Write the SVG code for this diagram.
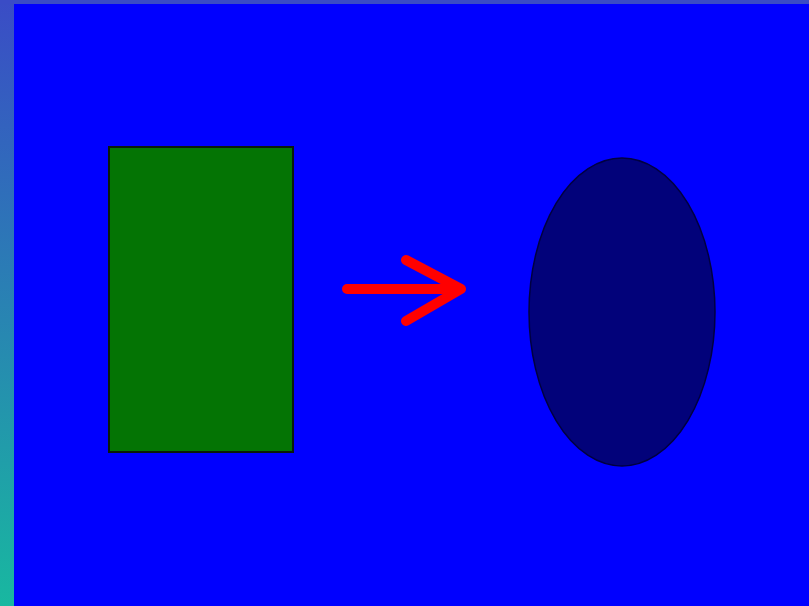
<svg xmlns="http://www.w3.org/2000/svg" width="809" height="606" viewBox="0 0 809 606">
<defs>
<linearGradient id="bg" x1="0" y1="0" x2="0" y2="1">
<stop offset="0" stop-color="#3a4cc6"/>
<stop offset="1" stop-color="#18b8a0"/>
</linearGradient>
<style>
.arrow{fill:none;stroke:#ff0000;stroke-width:10;stroke-linecap:round;stroke-linejoin:round}
</style>
</defs>
<rect x="0" y="0" width="809" height="606" fill="url(#bg)"/>
<rect x="0" y="0" width="809" height="4" fill="#3a4cc6"/>
<rect x="14" y="4" width="795" height="602" fill="#0000ff"/>
<g id="rectangle">
<rect x="109" y="147" width="184" height="305" fill="#047404" stroke="#0a1a0a" stroke-width="2"/>
</g>
<g id="ellipse">
<ellipse cx="622" cy="312" rx="93" ry="154" fill="#02027a" stroke="#000040" stroke-width="1.5"/>
</g>
<g id="connectors">
<path class="arrow" d="M347 289 H461 M406 260 L461 289 L406 321"/>
</g>
</svg>
